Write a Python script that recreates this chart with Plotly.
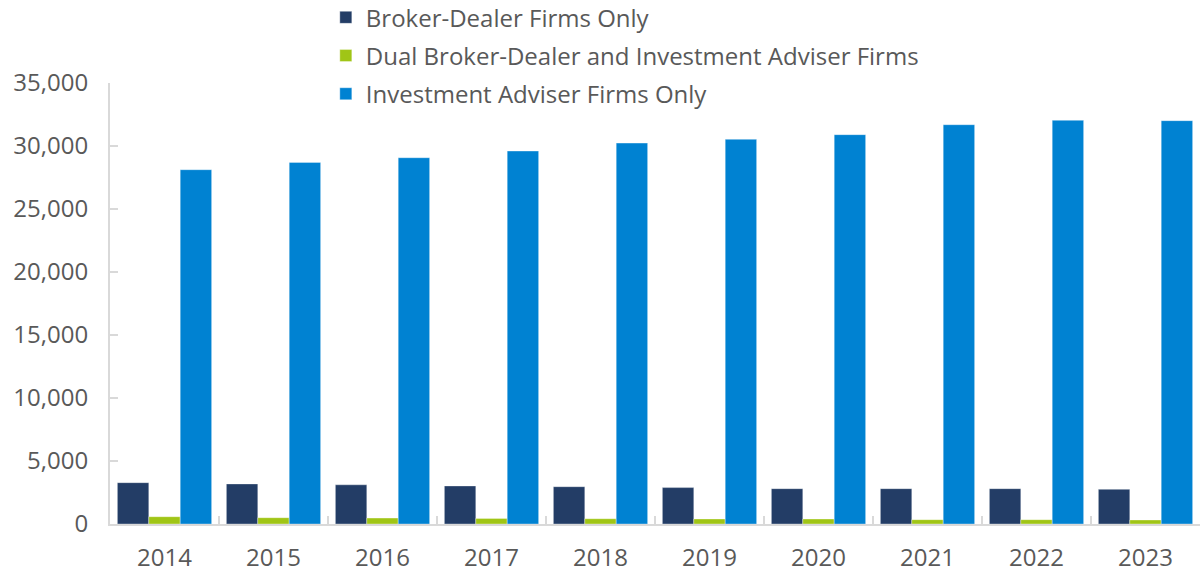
import plotly.graph_objects as go

years = ["2014", "2015", "2016", "2017", "2018", "2019", "2020", "2021", "2022", "2023"]
broker_dealer_only = [3280, 3180, 3110, 3020, 2960, 2890, 2805, 2805, 2805, 2750]
dual_registered = [580, 500, 470, 445, 420, 400, 397, 344, 344, 318]
adviser_only = [28120, 28700, 29070, 29600, 30230, 30530, 30900, 31690, 32040, 32010]

series_names = [
    "Broker-Dealer Firms Only",
    "Dual Broker-Dealer and Investment Adviser Firms",
    "Investment Adviser Firms Only",
]
series_colors = ["#233D66", "#A0C516", "#0082D2"]
series_values = [broker_dealer_only, dual_registered, adviser_only]

font_family = "Open Sans, Noto Sans, sans-serif"
text_color = "#595959"
axis_color = "#D9D9D9"

fig = go.Figure()
for i, (name, color, vals) in enumerate(zip(series_names, series_colors, series_values)):
    fig.add_trace(go.Bar(
        x=years, y=vals, name=name,
        marker=dict(color=color, line=dict(color="rgba(255,255,255,0.35)", width=1)),
        legendgroup=f"g{i}",
    ))

fig.update_layout(
    width=1202, height=571,
    margin=dict(l=110, r=2, t=83, b=47, autoexpand=False),
    paper_bgcolor="white", plot_bgcolor="white",
    barmode="group", bargap=0.135, bargroupgap=0,
    font=dict(family=font_family, size=24, color=text_color),
    showlegend=True,
    legend=dict(
        x=0.198, y=1.199, xanchor="left", yanchor="top",
        orientation="v", tracegroupgap=4,
        font=dict(size=24, color=text_color),
        bgcolor="rgba(0,0,0,0)",
        itemwidth=30,
    ),
    xaxis=dict(
        type="category",
        showline=True, linecolor=axis_color, linewidth=2,
        ticks="inside", tickson="boundaries", ticklen=8, tickcolor=axis_color, tickwidth=2,
        showgrid=False, ticklabelstandoff=11, tickangle=0,
        tickfont=dict(size=24, color=text_color),
    ),
    yaxis=dict(
        range=[0, 35000], dtick=5000, tickformat=",",
        showline=True, linecolor=axis_color, linewidth=2,
        ticks="inside", ticklen=8, tickcolor=axis_color, tickwidth=2,
        showgrid=False, zeroline=False, ticklabelstandoff=15,
        tickfont=dict(size=24, color=text_color),
    ),
)

fig.write_html("out.html", config={"displayModeBar": False},
               post_script="document.body.style.margin='0';")
